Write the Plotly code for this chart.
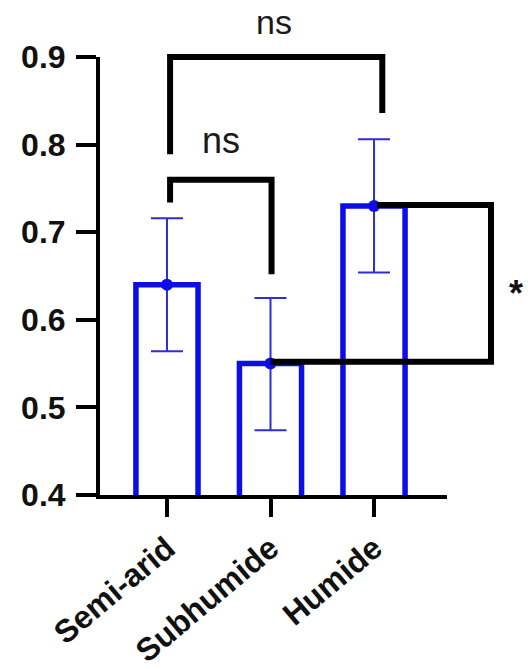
import plotly.graph_objects as go

# ---- data ----
categories = ["Semi-arid", "Subhumide", "Humide"]
means = [0.64, 0.55, 0.73]
err_plus = [0.076, 0.075, 0.076]
err_minus = [0.076, 0.076, 0.076]
y_ticks = [0.4, 0.5, 0.6, 0.7, 0.8, 0.9]

# ---- axis scales ----
X_RANGE = [-0.647, 2.705]
Y_RANGE = [0.4, 0.9]


def xp(v):
    return (v - X_RANGE[0]) / (X_RANGE[1] - X_RANGE[0])


def yp(v):
    return (v - Y_RANGE[0]) / (Y_RANGE[1] - Y_RANGE[0])


BLUE = "#0d0de8"
ERR_BLUE = "#2e2ed2"
FONT = "Arial, Liberation Sans, sans-serif"

xpos = list(range(len(categories)))

fig = go.Figure()
fig.add_trace(go.Bar(
    x=xpos, y=means,
    width=0.6,
    marker=dict(color="white", line=dict(color=BLUE, width=5.5)),
    showlegend=False,
))
fig.add_trace(go.Scatter(
    x=xpos, y=means, mode="markers",
    marker=dict(color=BLUE, size=12),
    error_y=dict(type="data", symmetric=False, array=err_plus, arrayminus=err_minus,
                 color=ERR_BLUE, thickness=2, width=16),
    showlegend=False,
))

# ---- brackets (paper coords derived from axis scales) ----
shapes = []
LW = 6
# top: Semi-arid vs Humide
a, b = 0.03, 2.08
top_y = 0.9
path = (f"M {xp(a)} {yp(0.789)} L {xp(a)} {yp(top_y)} "
        f"L {xp(b)} {yp(top_y)} L {xp(b)} {yp(0.836)}")
shapes.append(dict(type="path", xref="paper", yref="paper", path=path,
                   line=dict(color="black", width=LW)))
# second: Semi-arid vs Subhumide
a, b = 0.03, 1.01
y2 = 0.76
path = (f"M {xp(a)} {yp(0.734)} L {xp(a)} {yp(y2)} "
        f"L {xp(b)} {yp(y2)} L {xp(b)} {yp(0.652)}")
shapes.append(dict(type="path", xref="paper", yref="paper", path=path,
                   line=dict(color="black", width=LW)))
# star: Subhumide vs Humide (vertical bracket at right)
xr = 3.13
path = (f"M {xp(1.0)} {yp(0.552)} L {xp(xr)} {yp(0.552)} "
        f"L {xp(xr)} {yp(0.731)} L {xp(2.03)} {yp(0.731)}")
shapes.append(dict(type="path", xref="paper", yref="paper", path=path,
                   line=dict(color="black", width=LW)))

annotations = [
    dict(x=xp(1.03), y=yp(0.94), xref="paper", yref="paper", text="ns",
         showarrow=False, font=dict(family=FONT, size=34, color="#1a1a1a"),
         xanchor="center", yanchor="middle"),
    dict(x=xp(0.52), y=yp(0.805), xref="paper", yref="paper", text="ns",
         showarrow=False, font=dict(family=FONT, size=36, color="#1a1a1a"),
         xanchor="center", yanchor="middle"),
    dict(x=xp(3.28), y=yp(0.63), xref="paper", yref="paper", text="<b>*</b>",
         showarrow=False, font=dict(family=FONT, size=36, color="#111"),
         xanchor="left", yanchor="middle"),
]

fig.update_layout(
    width=528, height=669,
    margin=dict(l=100, r=81, t=57, b=174),
    paper_bgcolor="white", plot_bgcolor="white",
    shapes=shapes, annotations=annotations,
    xaxis=dict(
        range=X_RANGE, tickvals=xpos, ticktext=categories,
        showline=True, linecolor="black", linewidth=4,
        ticks="outside", ticklen=18, tickwidth=4, tickcolor="black",
        tickangle=-40, showgrid=False, zeroline=False, automargin=False,
        tickfont=dict(family=FONT, size=32, color="#111", weight="bold"),
    ),
    yaxis=dict(
        range=Y_RANGE, tickvals=y_ticks, tickformat=".1f",
        showline=True, linecolor="black", linewidth=4,
        ticks="outside", ticklen=20, tickwidth=4, tickcolor="black",
        showgrid=False, zeroline=False, ticklabelstandoff=4, automargin=False,
        tickfont=dict(family=FONT, size=32, color="#111", weight="bold"),
    ),
)

fig.write_html("out.html")
